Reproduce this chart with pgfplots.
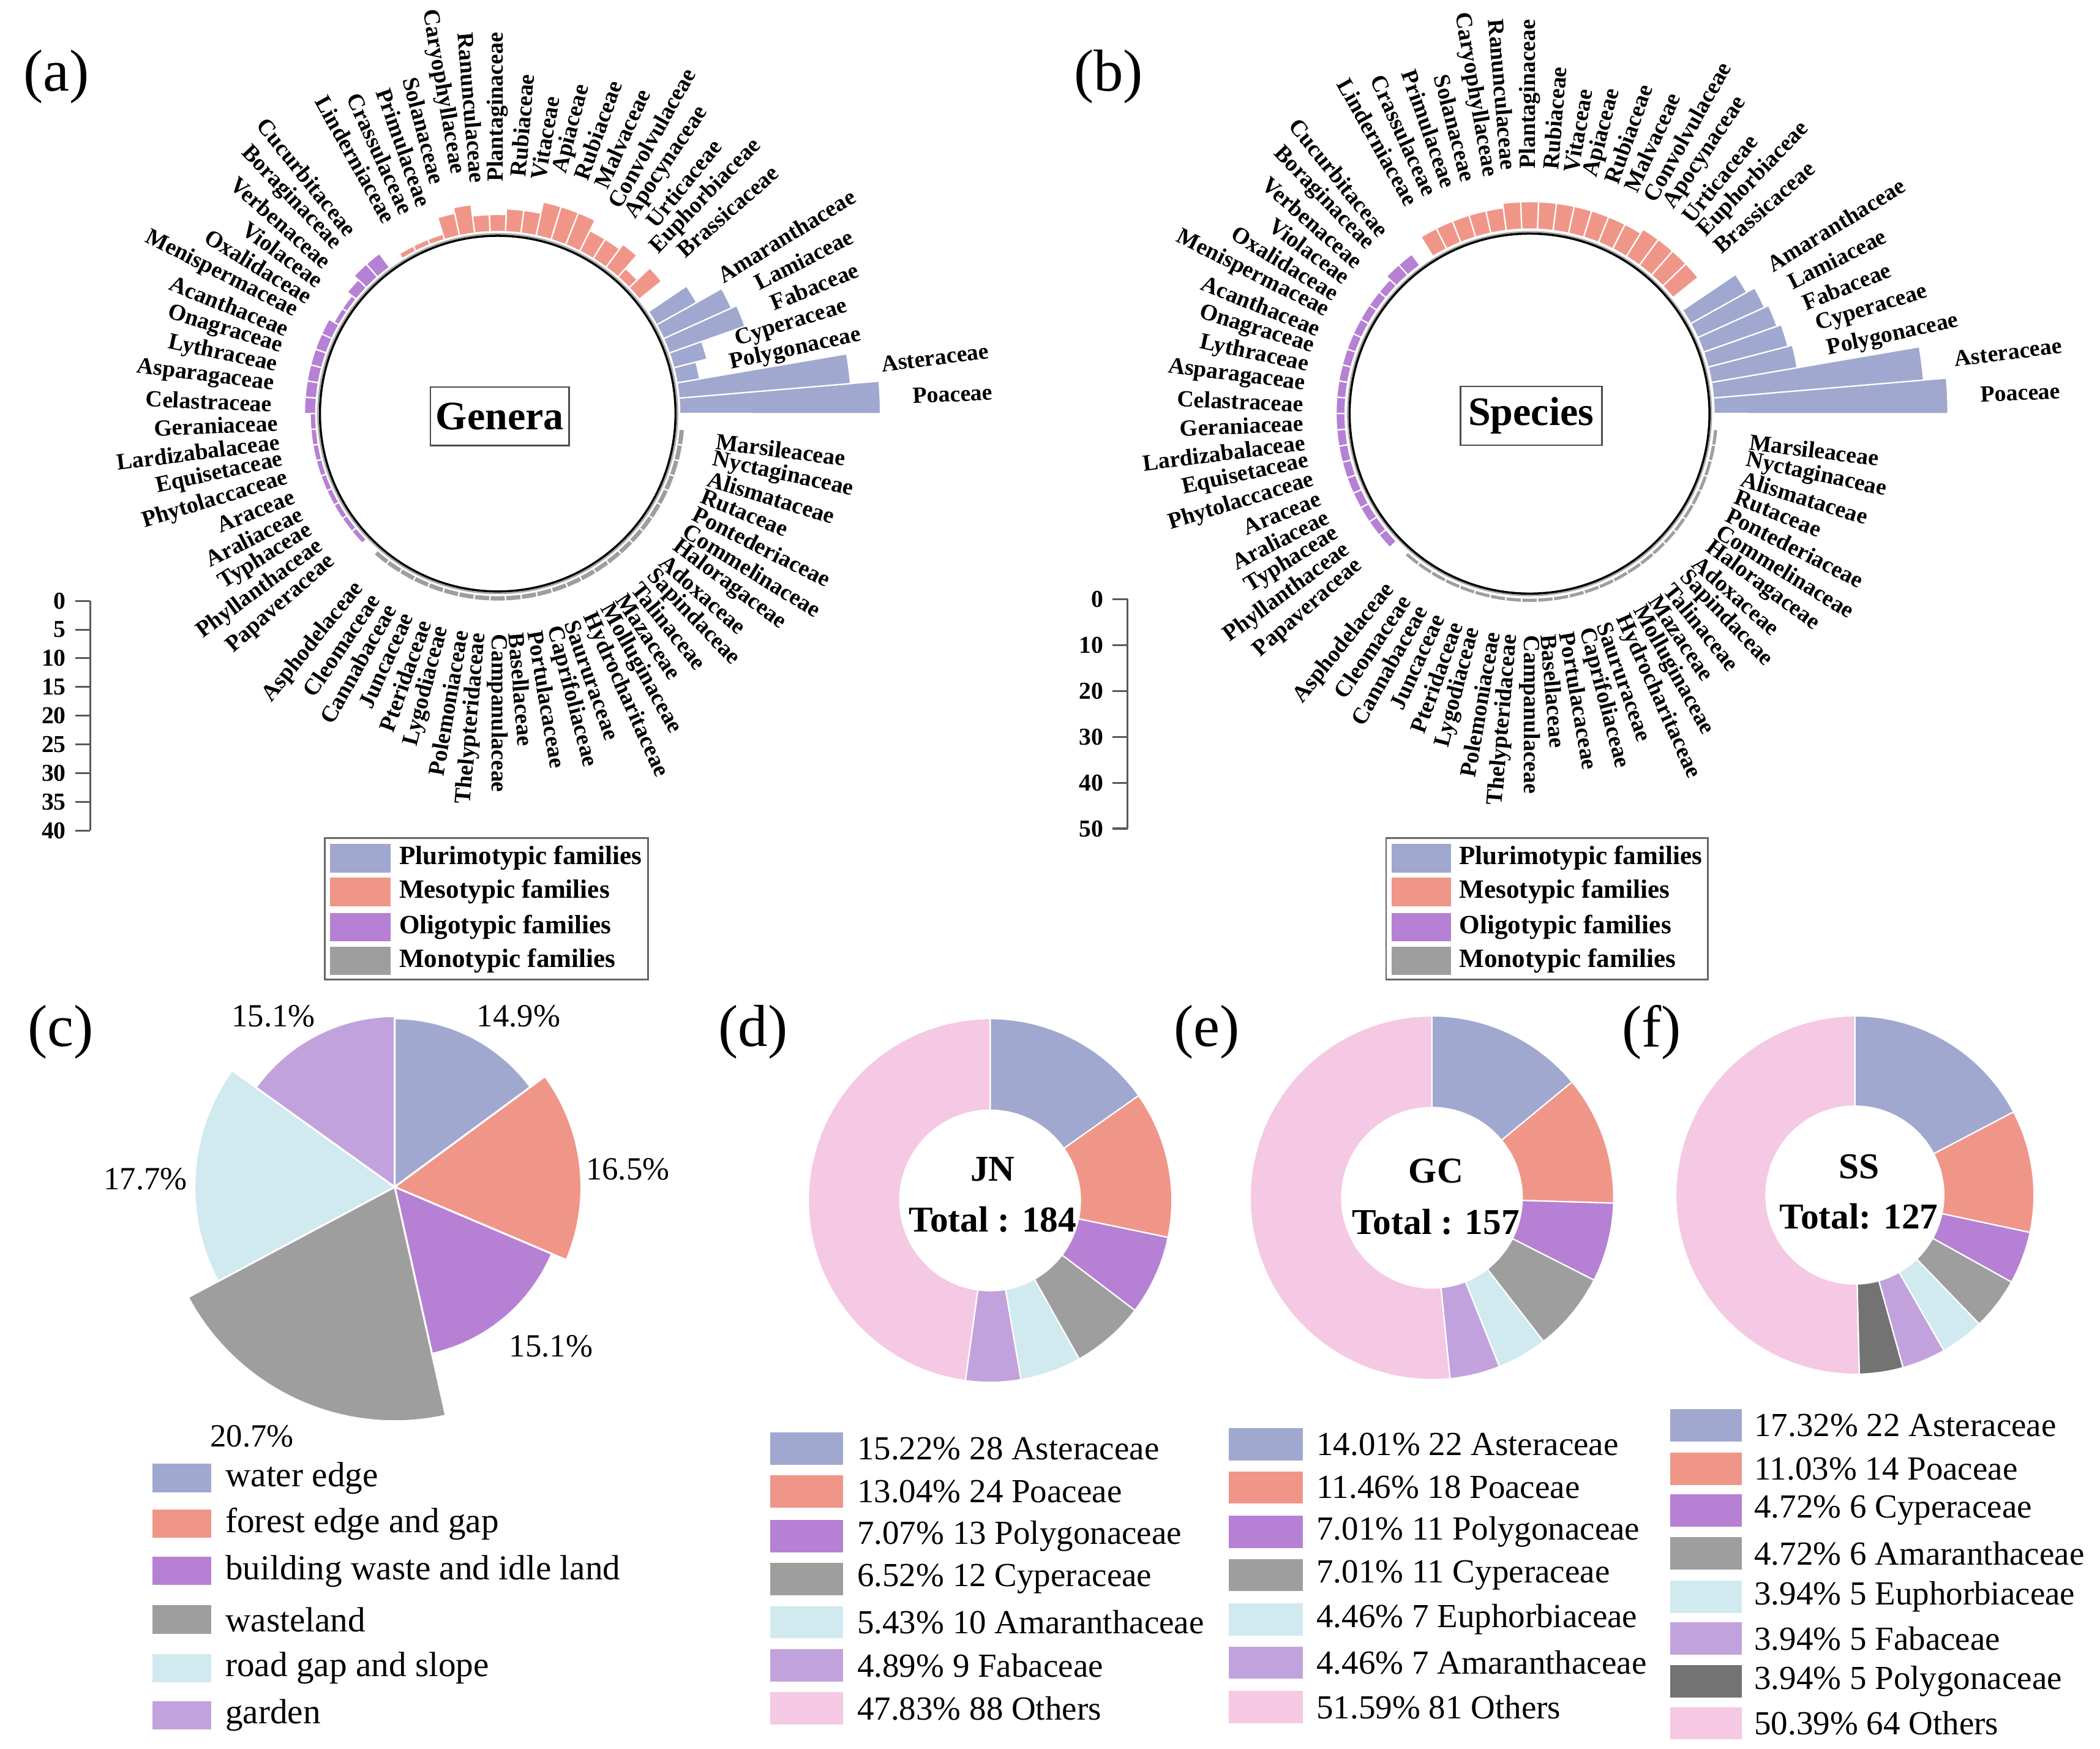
\documentclass[border=0pt]{standalone}
\usepackage{pgfplots}
\pgfplotsset{compat=1.18}
\usepackage{pgfplotstable}
\usepackage{fontspec}
\setmainfont{Liberation Serif}

\definecolor{cPluri}{RGB}{160,168,208}
\definecolor{cMeso}{RGB}{240,150,136}
\definecolor{cOligo}{RGB}{182,128,212}
\definecolor{cMono}{RGB}{158,158,158}
\definecolor{cCyan}{RGB}{208,234,240}
\definecolor{cLav}{RGB}{194,162,220}
\definecolor{cPink}{RGB}{245,200,228}
\definecolor{cDark}{RGB}{115,115,115}
\colorlet{grp1}{cPluri}\colorlet{grp2}{cMeso}\colorlet{grp3}{cOligo}\colorlet{grp4}{cMono}

% families: genera, species, group (1 pluri, 2 meso, 3 oligo, 4 mono), slot (position round the circle)
\pgfplotstableread{
name genera species grp slot
Poaceae 35 51 1 0
Asteraceae 30 46 1 1
Polygonaceae 4 19 1 2
Cyperaceae 6 18 1 3
Fabaceae 14 17 1 4
Lamiaceae 13 16 1 5
Amaranthaceae 8 14 1 6
Brassicaceae 5 7 2 8
Euphorbiaceae 2 7 2 9
Urticaceae 5 7 2 10
Apocynaceae 4 7 2 11
Convolvulaceae 4 6 2 12
Malvaceae 6 6 2 13
Rubiaceae 6 6 2 14
Apiaceae 6 6 2 15
Vitaceae 4 6 2 16
Rubiaceae 4 6 2 17
Plantaginaceae 3 6 2 18
Ranunculaceae 3 6 2 19
Caryophyllaceae 5 5 2 20
Solanaceae 4 5 2 21
Primulaceae 1 5 2 22
Crassulaceae 1 5 2 23
Linderniaceae 1 5 2 24
Cucurbitaceae 3 3 3 26
Boraginaceae 3 3 3 27
Verbenaceae 2 2 3 28
Violaceae 1 2 3 29
Oxalidaceae 1 2 3 30
Menispermaceae 2 2 3 31
Acanthaceae 2 2 3 32
Onagraceae 2 2 3 33
Lythraceae 2 2 3 34
Asparagaceae 2 2 3 35
Celastraceae 2 2 3 36
Geraniaceae 1 2 3 37
Lardizabalaceae 1 2 3 38
Equisetaceae 1 2 3 39
Phytolaccaceae 1 2 3 40
Araceae 1 2 3 41
Araliaceae 1 2 3 42
Typhaceae 1 2 3 43
Phyllanthaceae 1 2 3 44
Papaveraceae 1 2 3 45
Asphodelaceae 1 1 4 47
Cleomaceae 1 1 4 48
Cannabaceae 1 1 4 49
Juncaceae 1 1 4 50
Pteridaceae 1 1 4 51
Lygodiaceae 1 1 4 52
Polemoniaceae 1 1 4 53
Thelypteridaceae 1 1 4 54
Campanulaceae 1 1 4 55
Basellaceae 1 1 4 56
Portulacaceae 1 1 4 57
Caprifoliaceae 1 1 4 58
Saururaceae 1 1 4 59
Hydrocharitaceae 1 1 4 60
Molluginaceae 1 1 4 61
Mazaceae 1 1 4 62
Talinaceae 1 1 4 63
Sapindaceae 1 1 4 64
Adoxaceae 1 1 4 65
Haloragaceae 1 1 4 66
Commelinaceae 1 1 4 67
Pontederiaceae 1 1 4 68
Rutaceae 1 1 4 69
Alismataceae 1 1 4 70
Nyctaginaceae 1 1 4 71
Marsileaceae 1 1 4 72
}\famtab

\pgfplotstableread{
pct col
14.9 cPluri
16.5 cMeso
15.1 cOligo
20.7 cMono
17.7 cCyan
15.1 cLav
}\habtab

\pgfplotstableread{
pct col
15.22 cPluri
13.04 cMeso
7.07 cOligo
6.52 cMono
5.43 cCyan
4.89 cLav
47.83 cPink
}\jntab

\pgfplotstableread{
pct col
14.01 cPluri
11.46 cMeso
7.01 cOligo
7.01 cMono
4.46 cCyan
4.46 cLav
51.59 cPink
}\gctab

\pgfplotstableread{
pct col
17.32 cPluri
11.03 cMeso
4.72 cOligo
4.72 cMono
3.94 cCyan
3.94 cLav
3.94 cDark
50.39 cPink
}\sstab

\def\sLW{0.5bp}
% annular sector between two angles, drawn as one pgfplots plot in polar data coordinates
\newcommand\sector[5]{%
  \pgfmathsetmacro\sA{#1}%
  \pgfmathsetmacro\sB{#2}%
  \pgfmathsetmacro\sRi{#3}%
  \pgfmathsetmacro\sRo{#4}%
  \pgfmathtruncatemacro\sN{max(1,ceil(abs(\sB-\sA)/2))}%
  \pgfmathsetmacro\sD{(\sB-\sA)/\sN}%
  \xdef\sL{}%
  \foreach \k in {0,...,\sN}{%
    \pgfmathsetmacro\sT{\sA+\sD*\k}%
    \xdef\sL{\sL(\sT,\sRo)}}%
  \pgfmathtruncatemacro\sHasIn{\sRi>0 ? 1 : 0}%
  \ifnum\sHasIn=1
    \foreach \k in {\sN,...,0}{%
      \pgfmathsetmacro\sT{\sA+\sD*\k}%
      \xdef\sL{\sL(\sT,\sRi)}}%
  \else
    \xdef\sL{\sL(0,0)}%
  \fi
  \xdef\sL{\sL(\sA,\sRo)}%
  \edef\sTmp{\noexpand\addplot[data cs=polar,draw=white,line width=\sLW,fill=#5] coordinates {\sL};}%
  \sTmp}

\tikzset{famlab/.style={font=\bfseries\fontsize{8.6bp}{9.5bp}\selectfont, inner sep=0pt}}

% circular bar chart from \famtab: #1 column, #2 base radius, #3 label offset
\def\thzero{2.43}\def\dth{4.865}
\newcommand\circbars[3]{%
  \pgfplotsforeachungrouped \i in {0,...,69}{%
    \pgfplotstablegetelem{\i}{#1}\of\famtab\let\cv\pgfplotsretval
    \pgfplotstablegetelem{\i}{grp}\of\famtab\let\cg\pgfplotsretval
    \pgfplotstablegetelem{\i}{slot}\of\famtab\let\cs\pgfplotsretval
    \pgfplotstablegetelem{\i}{name}\of\famtab\let\nm\pgfplotsretval
    \pgfmathsetmacro\ca{\thzero+\dth*\cs}%
    \pgfmathsetmacro\cb{\ca-\dth/2}%
    \pgfmathsetmacro\ce{\ca+\dth/2}%
    \pgfmathsetmacro\co{#2+\cv}%
    \sector{\cb}{\ce}{#2}{\co}{grp\cg}%
    \pgfmathsetmacro\rl{\co+#3}%
    \pgfmathsetmacro\lx{\rl*cos(\ca)}%
    \pgfmathsetmacro\ly{\rl*sin(\ca)}%
    \pgfmathtruncatemacro\cflip{and(\ca>90.5,\ca<269.5)}%
    \ifnum\cflip=1 \pgfmathsetmacro\rot{\ca-180}\def\anc{east}\else\pgfmathsetmacro\rot{\ca}\def\anc{west}\fi
    \edef\lTmp{\noexpand\node[famlab,rotate=\rot,anchor=\anc] at (axis cs:\lx,\ly) {\nm};}%
    \lTmp
  }}

% pie / donut from a table: #1 table, #2 inner radius, #3 outer radius
\newcommand\piechart[3]{%
  \pgfplotstablegetrowsof{#1}\pgfmathtruncatemacro\nr{\pgfplotsretval-1}%
  \gdef\curang{90}%
  \pgfplotsforeachungrouped \i in {0,...,\nr}{%
    \pgfplotstablegetelem{\i}{pct}\of#1\let\pv\pgfplotsretval
    \pgfplotstablegetelem{\i}{col}\of#1\let\pc\pgfplotsretval
    \pgfmathsetmacro\nxt{\curang-3.6*\pv}%
    \sector{\curang}{\nxt}{#2}{#3}{\pc}%
    \global\let\curang\nxt}}

% round plot area: explicit units, symmetric limits, anchored at its origin
\pgfplotsset{roundbase/.style={hide axis, anchor=origin, clip=false, xmin=-#1, xmax=#1, ymin=-#1, ymax=#1, enlargelimits=false}}

\newcommand\legentry[7]{%
  \fill[#5] (#1,{1298-#3-#4/2}) rectangle (#2,{1298-#3+#4/2});
  \node[anchor=west,inner sep=0pt] at (#6,{1298-#3}) {#7};}

\begin{document}
\begin{tikzpicture}

% ---------------- (a) genera ----------------
\begin{axis}[roundbase=80, x=2.13bp, y=2.13bp, at={(184.75bp,495.5bp)}]
\circbars{genera}{31.7}{5.6}
\end{axis}

% ---------------- (b) species ----------------
\begin{axis}[roundbase=100, x=1.703bp, y=1.703bp, at={(567.75bp,495.5bp)}]
\circbars{species}{40.2}{7.05}
\end{axis}

% ---------------- scale bars ----------------
\begin{axis}[at={(33.5bp,426bp)}, anchor=north west, scale only axis, width=4bp, height=85.25bp,
  xmin=0, xmax=1, ymin=0, ymax=40, y dir=reverse, axis x line=none, axis y line=left,
  axis line style={-,draw=black!65,line width=0.7bp}, ytick={0,5,...,40}, tick align=outside,
  major tick length=5.5bp, tick style={draw=black!65,line width=0.7bp},
  yticklabel style={font=\bfseries\fontsize{9bp}{9bp}\selectfont},
  /pgf/number format/assume math mode=true]
\addplot[draw=none] coordinates {(0,0) (1,40)};
\end{axis}
\begin{axis}[at={(418.5bp,426.65bp)}, anchor=north west, scale only axis, width=4bp, height=85.15bp,
  xmin=0, xmax=1, ymin=0, ymax=50, y dir=reverse, axis x line=none, axis y line=left,
  axis line style={-,draw=black!65,line width=0.7bp}, ytick={0,10,...,50}, tick align=outside,
  major tick length=5.5bp, tick style={draw=black!65,line width=0.7bp},
  yticklabel style={font=\bfseries\fontsize{9bp}{9bp}\selectfont},
  /pgf/number format/assume math mode=true]
\addplot[draw=none] coordinates {(0,0) (1,50)};
\end{axis}

% ---------------- (c) habitats ----------------
\def\sLW{0.7bp}
\begin{axis}[roundbase=25, x=4.2bp, y=4.2bp, at={(146.5bp,208.5bp)}]
\piechart{\habtab}{0}{\pv}
\end{axis}

% ---------------- (d)(e)(f) donuts ----------------
\def\sLW{0.5bp}
\begin{axis}[roundbase=140, x=0.5bp, y=0.5bp, at={(367.5bp,203.5bp)}]
\piechart{\jntab}{67}{135}
\end{axis}
\begin{axis}[roundbase=140, x=0.5bp, y=0.5bp, at={(531.5bp,204.5bp)}]
\piechart{\gctab}{67}{135}
\end{axis}
\begin{axis}[roundbase=140, x=0.5bp, y=0.5bp, at={(688.5bp,205.5bp)}]
\piechart{\sstab}{66}{133}
\end{axis}

\begin{scope}[x=0.5bp,y=0.5bp]
\draw[black!35, line width=0.5bp] (369.5,991) circle[radius=133.5];
\draw[line width=0.8bp] (369.5,991) circle[radius=132];
\node[draw=black!70, line width=0.6bp, font=\bfseries\fontsize{15bp}{16bp}\selectfont, minimum width=51bp, minimum height=21.8bp, inner sep=2bp] at (371,989) {Genera};
\draw[black!35, line width=0.5bp] (1135.5,991) circle[radius=135];
\draw[line width=0.8bp] (1135.5,991) circle[radius=133.6];
\node[draw=black!70, line width=0.6bp, font=\bfseries\fontsize{15bp}{16bp}\selectfont, minimum width=52.6bp, minimum height=21.8bp, inner sep=2bp] at (1136.7,989.4) {Species};

% legends (a), (b)
\begin{scope}[font=\bfseries\fontsize{9.8bp}{11bp}\selectfont]
\draw[draw=black!60, line width=0.6bp] (241,{1298-622}) rectangle (481,{1298-727});
\legentry{245}{290}{637}{21}{cPluri}{296}{Plurimotypic families}
\legentry{245}{290}{662}{21}{cMeso}{296}{Mesotypic families}
\legentry{245}{290}{688}{21}{cOligo}{296}{Oligotypic families}
\legentry{245}{290}{713}{21}{cMono}{296}{Monotypic families}
\draw[draw=black!60, line width=0.6bp] (1029,{1298-622}) rectangle (1268,{1298-727});
\legentry{1033}{1077}{637}{21}{cPluri}{1083}{Plurimotypic families}
\legentry{1033}{1077}{662}{21}{cMeso}{1083}{Mesotypic families}
\legentry{1033}{1077}{688}{21}{cOligo}{1083}{Oligotypic families}
\legentry{1033}{1077}{713}{21}{cMono}{1083}{Monotypic families}
\end{scope}

% (c) labels and legend
\begin{scope}[font=\fontsize{12bp}{13bp}\selectfont]
\node at (385,{1298-754}) {14.9\%};
\node at (466,{1298-868}) {16.5\%};
\node at (409,{1298-999}) {15.1\%};
\node at (187,{1298-1066}) {20.7\%};
\node at (108,{1298-875}) {17.7\%};
\node at (203,{1298-754}) {15.1\%};
\end{scope}
\begin{scope}[font=\fontsize{13bp}{14bp}\selectfont]
\legentry{113}{157}{1097}{21}{cPluri}{167}{water edge}
\legentry{113}{157}{1131}{21}{cMeso}{167}{forest edge and gap}
\legentry{113}{157}{1166}{21}{cOligo}{167}{building waste and idle land}
\legentry{113}{157}{1202}{21}{cMono}{167}{wasteland}
\legentry{113}{157}{1238}{21}{cCyan}{167}{road gap and slope}
\legentry{113}{157}{1273}{21}{cLav}{167}{garden}
\end{scope}

% donut centres
\begin{scope}[font=\bfseries\fontsize{13.5bp}{15bp}\selectfont]
\node at (737,{1298-868}) {JN};
\node at (737,{1298-905}) {Total : 184};
\node at (1066,{1298-869}) {GC};
\node at (1066,{1298-907}) {Total : 157};
\node at (1380,{1298-866}) {SS};
\node at (1380,{1298-903}) {Total: 127};
\end{scope}

% donut legends
\begin{scope}[font=\fontsize{12.5bp}{14bp}\selectfont]
\legentry{572}{626}{1075}{24}{cPluri}{636}{15.22\% 28 Asteraceae}
\legentry{572}{626}{1107}{24}{cMeso}{636}{13.04\% 24 Poaceae}
\legentry{572}{626}{1140}{24}{cOligo}{636}{7.07\% 13 Polygonaceae}
\legentry{572}{626}{1172}{24}{cMono}{636}{6.52\% 12 Cyperaceae}
\legentry{572}{626}{1204}{24}{cCyan}{636}{5.43\% 10 Amaranthaceae}
\legentry{572}{626}{1236}{24}{cLav}{636}{4.89\% 9 Fabaceae}
\legentry{572}{626}{1268}{24}{cPink}{636}{47.83\% 88 Others}
\legentry{912}{967}{1072}{24}{cPluri}{977}{14.01\% 22 Asteraceae}
\legentry{912}{967}{1104}{24}{cMeso}{977}{11.46\% 18 Poaceae}
\legentry{912}{967}{1137}{24}{cOligo}{977}{7.01\% 11 Polygonaceae}
\legentry{912}{967}{1169}{24}{cMono}{977}{7.01\% 11 Cyperaceae}
\legentry{912}{967}{1202}{24}{cCyan}{977}{4.46\% 7 Euphorbiaceae}
\legentry{912}{967}{1234}{24}{cLav}{977}{4.46\% 7 Amaranthaceae}
\legentry{912}{967}{1267}{24}{cPink}{977}{51.59\% 81 Others}
\legentry{1240}{1293}{1058}{24}{cPluri}{1302}{17.32\% 22 Asteraceae}
\legentry{1240}{1293}{1090}{24}{cMeso}{1302}{11.03\% 14 Poaceae}
\legentry{1240}{1293}{1121}{24}{cOligo}{1302}{4.72\% 6 Cyperaceae}
\legentry{1240}{1293}{1153}{24}{cMono}{1302}{4.72\% 6 Amaranthaceae}
\legentry{1240}{1293}{1185}{24}{cCyan}{1302}{3.94\% 5 Euphorbiaceae}
\legentry{1240}{1293}{1216}{24}{cLav}{1302}{3.94\% 5 Fabaceae}
\legentry{1240}{1293}{1248}{24}{cDark}{1302}{3.94\% 5 Polygonaceae}
\legentry{1240}{1293}{1279}{24}{cPink}{1302}{50.39\% 64 Others}
\end{scope}

% panel letters
\begin{scope}[font=\fontsize{22bp}{24bp}\selectfont]
\node at (42,{1298-57}) {(a)};
\node at (823,{1298-57}) {(b)};
\node at (45,{1298-766}) {(c)};
\node at (559,{1298-766}) {(d)};
\node at (896,{1298-766}) {(e)};
\node at (1226,{1298-766}) {(f)};
\end{scope}

\pgfresetboundingbox
\path[use as bounding box] (0,0) rectangle (1559,1298);
\end{scope}
\end{tikzpicture}
\end{document}
